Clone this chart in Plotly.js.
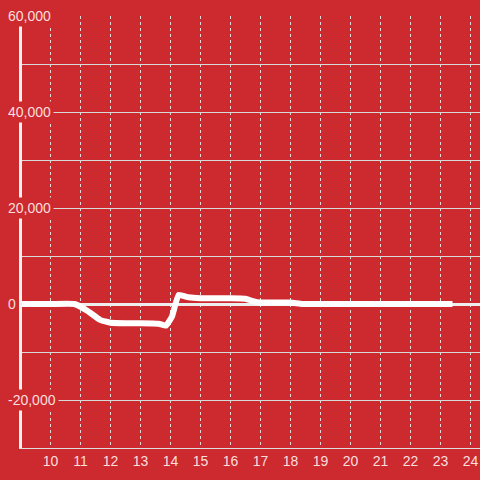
<!DOCTYPE html>
<html>
<head>
<meta charset="utf-8">
<script src="https://cdn.plot.ly/plotly-3.0.1.min.js"></script>
<style>html,body{margin:0;padding:0;background:#cd2a2f;}#chart{width:480px;height:480px;}</style>
</head>
<body>
<div id="chart"></div>
<script>
var xValues = [9.0, 10.0, 10.8, 11.25, 11.65, 12.0, 12.5, 13.0, 13.6, 13.85, 14.05, 14.27, 14.6, 15.0, 15.5, 16.0, 16.5, 16.75, 17.0, 17.5, 18.0, 18.4, 19, 20, 21, 22, 23, 23.4];
var yValues = [0, 0, 0, -1500, -3300, -3900, -4000, -4000, -4100, -4500, -2600, 1900, 1400, 1200, 1200, 1200, 1100, 600, 300, 300, 300, 0, 0, 0, 0, 0, 0, 0];
var xTickVals = [10, 11, 12, 13, 14, 15, 16, 17, 18, 19, 20, 21, 22, 23, 24];
var yTickVals = [60000, 40000, 20000, 0, -20000];
var yTickText = ["60,000", "40,000", "20,000", "0", "-20,000"];

var bg = '#cd2a2f';
var labelColor = 'rgba(255,240,240,0.92)';
var plotLeft = 22, plotWidth = 458;

var annotations = yTickVals.map(function (v, i) {
  return {
    xref: 'paper', yref: 'y',
    x: (5 - plotLeft) / plotWidth, y: v,
    xanchor: 'left', yanchor: 'middle',
    text: yTickText[i], showarrow: false,
    bgcolor: bg, borderpad: 2,
    font: {family: 'Liberation Sans, Arial, sans-serif', size: 14, color: labelColor}
  };
});

var data = [{
  type: 'scatter', mode: 'lines',
  x: xValues, y: yValues,
  line: {color: '#ffffff', width: 6, shape: 'spline', smoothing: 0.35},
  hoverinfo: 'none'
}];

var layout = {
  width: 480, height: 480,
  paper_bgcolor: bg, plot_bgcolor: bg,
  margin: {l: plotLeft, r: 0, t: 16, b: 32},
  showlegend: false,
  xaxis: {
    range: [9.05, 24.317],
    tickvals: xTickVals,
    ticktext: xTickVals.map(String),
    showgrid: true, gridcolor: '#dddddd', gridwidth: 1, griddash: 'dot',
    zeroline: false,
    showline: true, linecolor: '#dddddd', linewidth: 1,
    ticks: '',
    tickfont: {family: 'Liberation Sans, Arial, sans-serif', size: 14, color: labelColor}
  },
  yaxis: {
    range: [-30000, 60000],
    dtick: 10000, tick0: 0,
    showgrid: true, gridcolor: '#d9d9d9', gridwidth: 1,
    zeroline: true, zerolinecolor: '#eeeeee', zerolinewidth: 3,
    showline: true, linecolor: '#f2f2f2', linewidth: 3,
    showticklabels: false, ticks: ''
  },
  annotations: annotations
};

Plotly.newPlot('chart', data, layout, {staticPlot: true, displayModeBar: false});
</script>
</body>
</html>
